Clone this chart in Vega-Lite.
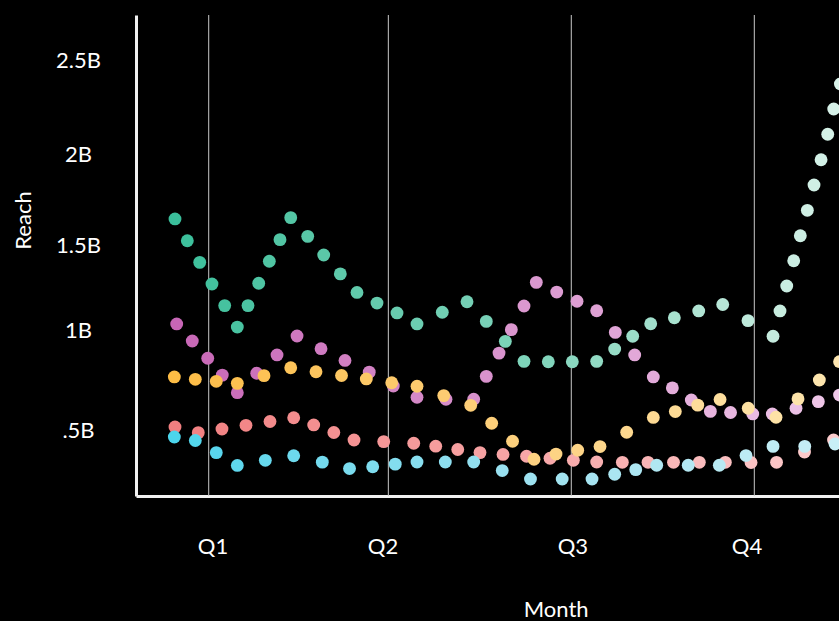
{
  "$schema": "https://vega.github.io/schema/vega-lite/v6.json",
  "width": 703,
  "height": 481,
  "autosize": {"type": "none"},
  "padding": {"left": 136, "top": 15, "right": 0, "bottom": 125},
  "background": "#000000",
  "config": {"view": {"stroke": null}, "font": "Lato"},
  "datasets": {
    "quarters": [
      {"Month": 1.5}, {"Month": 4.463}, {"Month": 7.481}, {"Month": 10.5}
    ],
    "points": [
      {"Series": "A", "Month": 0.944, "Reach": 1.639},
      {"Series": "A", "Month": 1.147, "Reach": 1.520},
      {"Series": "A", "Month": 1.352, "Reach": 1.402},
      {"Series": "A", "Month": 1.554, "Reach": 1.284},
      {"Series": "A", "Month": 1.764, "Reach": 1.166},
      {"Series": "A", "Month": 1.972, "Reach": 1.049},
      {"Series": "A", "Month": 2.148, "Reach": 1.166},
      {"Series": "A", "Month": 2.325, "Reach": 1.288},
      {"Series": "A", "Month": 2.500, "Reach": 1.408},
      {"Series": "A", "Month": 2.676, "Reach": 1.526},
      {"Series": "A", "Month": 2.853, "Reach": 1.646},
      {"Series": "A", "Month": 3.133, "Reach": 1.544},
      {"Series": "A", "Month": 3.397, "Reach": 1.442},
      {"Series": "A", "Month": 3.671, "Reach": 1.339},
      {"Series": "A", "Month": 3.946, "Reach": 1.238},
      {"Series": "A", "Month": 4.276, "Reach": 1.180},
      {"Series": "A", "Month": 4.606, "Reach": 1.126},
      {"Series": "A", "Month": 4.936, "Reach": 1.066},
      {"Series": "A", "Month": 5.353, "Reach": 1.130},
      {"Series": "A", "Month": 5.761, "Reach": 1.187},
      {"Series": "A", "Month": 6.079, "Reach": 1.080},
      {"Series": "A", "Month": 6.393, "Reach": 0.971},
      {"Series": "A", "Month": 6.701, "Reach": 0.862},
      {"Series": "A", "Month": 7.102, "Reach": 0.860},
      {"Series": "A", "Month": 7.498, "Reach": 0.860},
      {"Series": "A", "Month": 7.900, "Reach": 0.862},
      {"Series": "A", "Month": 8.197, "Reach": 0.929},
      {"Series": "A", "Month": 8.494, "Reach": 0.999},
      {"Series": "A", "Month": 8.791, "Reach": 1.067},
      {"Series": "A", "Month": 9.181, "Reach": 1.100},
      {"Series": "A", "Month": 9.583, "Reach": 1.137},
      {"Series": "A", "Month": 9.979, "Reach": 1.172},
      {"Series": "A", "Month": 10.396, "Reach": 1.084},
      {"Series": "A", "Month": 10.809, "Reach": 0.999},
      {"Series": "A", "Month": 10.924, "Reach": 1.137},
      {"Series": "A", "Month": 11.035, "Reach": 1.273},
      {"Series": "A", "Month": 11.150, "Reach": 1.411},
      {"Series": "A", "Month": 11.259, "Reach": 1.547},
      {"Series": "A", "Month": 11.375, "Reach": 1.686},
      {"Series": "A", "Month": 11.485, "Reach": 1.824},
      {"Series": "A", "Month": 11.601, "Reach": 1.962},
      {"Series": "A", "Month": 11.711, "Reach": 2.101},
      {"Series": "A", "Month": 11.810, "Reach": 2.239},
      {"Series": "A", "Month": 11.920, "Reach": 2.375},
      {"Series": "B", "Month": 0.972, "Reach": 1.066},
      {"Series": "B", "Month": 1.229, "Reach": 0.973},
      {"Series": "B", "Month": 1.484, "Reach": 0.879},
      {"Series": "B", "Month": 1.724, "Reach": 0.787},
      {"Series": "B", "Month": 1.972, "Reach": 0.691},
      {"Series": "B", "Month": 2.292, "Reach": 0.797},
      {"Series": "B", "Month": 2.627, "Reach": 0.897},
      {"Series": "B", "Month": 2.957, "Reach": 1.000},
      {"Series": "B", "Month": 3.353, "Reach": 0.931},
      {"Series": "B", "Month": 3.748, "Reach": 0.867},
      {"Series": "B", "Month": 4.148, "Reach": 0.803},
      {"Series": "B", "Month": 4.545, "Reach": 0.727},
      {"Series": "B", "Month": 4.936, "Reach": 0.666},
      {"Series": "B", "Month": 5.414, "Reach": 0.655},
      {"Series": "B", "Month": 5.871, "Reach": 0.655},
      {"Series": "B", "Month": 6.079, "Reach": 0.780},
      {"Series": "B", "Month": 6.289, "Reach": 0.907},
      {"Series": "B", "Month": 6.492, "Reach": 1.035},
      {"Series": "B", "Month": 6.701, "Reach": 1.164},
      {"Series": "B", "Month": 6.904, "Reach": 1.293},
      {"Series": "B", "Month": 7.241, "Reach": 1.240},
      {"Series": "B", "Month": 7.576, "Reach": 1.190},
      {"Series": "B", "Month": 7.900, "Reach": 1.138},
      {"Series": "B", "Month": 8.207, "Reach": 1.020},
      {"Series": "B", "Month": 8.527, "Reach": 0.897},
      {"Series": "B", "Month": 8.834, "Reach": 0.777},
      {"Series": "B", "Month": 9.148, "Reach": 0.717},
      {"Series": "B", "Month": 9.461, "Reach": 0.651},
      {"Series": "B", "Month": 9.775, "Reach": 0.589},
      {"Series": "B", "Month": 10.108, "Reach": 0.583},
      {"Series": "B", "Month": 10.474, "Reach": 0.575},
      {"Series": "B", "Month": 10.797, "Reach": 0.575},
      {"Series": "B", "Month": 11.188, "Reach": 0.606},
      {"Series": "B", "Month": 11.556, "Reach": 0.642},
      {"Series": "B", "Month": 11.906, "Reach": 0.678},
      {"Series": "C", "Month": 0.933, "Reach": 0.777},
      {"Series": "C", "Month": 1.279, "Reach": 0.764},
      {"Series": "C", "Month": 1.625, "Reach": 0.753},
      {"Series": "C", "Month": 1.972, "Reach": 0.742},
      {"Series": "C", "Month": 2.412, "Reach": 0.784},
      {"Series": "C", "Month": 2.853, "Reach": 0.827},
      {"Series": "C", "Month": 3.270, "Reach": 0.805},
      {"Series": "C", "Month": 3.691, "Reach": 0.785},
      {"Series": "C", "Month": 4.100, "Reach": 0.766},
      {"Series": "C", "Month": 4.519, "Reach": 0.745},
      {"Series": "C", "Month": 4.936, "Reach": 0.726},
      {"Series": "C", "Month": 5.377, "Reach": 0.675},
      {"Series": "C", "Month": 5.822, "Reach": 0.622},
      {"Series": "C", "Month": 6.168, "Reach": 0.524},
      {"Series": "C", "Month": 6.512, "Reach": 0.426},
      {"Series": "C", "Month": 6.866, "Reach": 0.328},
      {"Series": "C", "Month": 7.229, "Reach": 0.356},
      {"Series": "C", "Month": 7.587, "Reach": 0.377},
      {"Series": "C", "Month": 7.955, "Reach": 0.397},
      {"Series": "C", "Month": 8.395, "Reach": 0.475},
      {"Series": "C", "Month": 8.834, "Reach": 0.556},
      {"Series": "C", "Month": 9.197, "Reach": 0.588},
      {"Series": "C", "Month": 9.567, "Reach": 0.623},
      {"Series": "C", "Month": 9.935, "Reach": 0.654},
      {"Series": "C", "Month": 10.400, "Reach": 0.606},
      {"Series": "C", "Month": 10.858, "Reach": 0.557},
      {"Series": "C", "Month": 11.221, "Reach": 0.657},
      {"Series": "C", "Month": 11.573, "Reach": 0.760},
      {"Series": "C", "Month": 11.906, "Reach": 0.860},
      {"Series": "D", "Month": 0.944, "Reach": 0.504},
      {"Series": "D", "Month": 1.328, "Reach": 0.473},
      {"Series": "D", "Month": 1.719, "Reach": 0.493},
      {"Series": "D", "Month": 2.115, "Reach": 0.513},
      {"Series": "D", "Month": 2.511, "Reach": 0.534},
      {"Series": "D", "Month": 2.902, "Reach": 0.554},
      {"Series": "D", "Month": 3.232, "Reach": 0.515},
      {"Series": "D", "Month": 3.564, "Reach": 0.474},
      {"Series": "D", "Month": 3.897, "Reach": 0.433},
      {"Series": "D", "Month": 4.387, "Reach": 0.424},
      {"Series": "D", "Month": 4.882, "Reach": 0.415},
      {"Series": "D", "Month": 5.245, "Reach": 0.399},
      {"Series": "D", "Month": 5.608, "Reach": 0.381},
      {"Series": "D", "Month": 5.975, "Reach": 0.364},
      {"Series": "D", "Month": 6.355, "Reach": 0.354},
      {"Series": "D", "Month": 6.743, "Reach": 0.344},
      {"Series": "D", "Month": 7.130, "Reach": 0.333},
      {"Series": "D", "Month": 7.515, "Reach": 0.322},
      {"Series": "D", "Month": 7.900, "Reach": 0.313},
      {"Series": "D", "Month": 8.323, "Reach": 0.311},
      {"Series": "D", "Month": 8.747, "Reach": 0.311},
      {"Series": "D", "Month": 9.167, "Reach": 0.311},
      {"Series": "D", "Month": 9.593, "Reach": 0.311},
      {"Series": "D", "Month": 10.022, "Reach": 0.311},
      {"Series": "D", "Month": 10.446, "Reach": 0.310},
      {"Series": "D", "Month": 10.867, "Reach": 0.311},
      {"Series": "D", "Month": 11.328, "Reach": 0.367},
      {"Series": "D", "Month": 11.807, "Reach": 0.433},
      {"Series": "E", "Month": 0.933, "Reach": 0.449},
      {"Series": "E", "Month": 1.279, "Reach": 0.430},
      {"Series": "E", "Month": 1.625, "Reach": 0.364},
      {"Series": "E", "Month": 1.972, "Reach": 0.294},
      {"Series": "E", "Month": 2.434, "Reach": 0.322},
      {"Series": "E", "Month": 2.902, "Reach": 0.347},
      {"Series": "E", "Month": 3.374, "Reach": 0.312},
      {"Series": "E", "Month": 3.823, "Reach": 0.277},
      {"Series": "E", "Month": 4.205, "Reach": 0.287},
      {"Series": "E", "Month": 4.577, "Reach": 0.301},
      {"Series": "E", "Month": 4.936, "Reach": 0.313},
      {"Series": "E", "Month": 5.403, "Reach": 0.313},
      {"Series": "E", "Month": 5.871, "Reach": 0.313},
      {"Series": "E", "Month": 6.342, "Reach": 0.266},
      {"Series": "E", "Month": 6.808, "Reach": 0.220},
      {"Series": "E", "Month": 7.331, "Reach": 0.220},
      {"Series": "E", "Month": 7.823, "Reach": 0.220},
      {"Series": "E", "Month": 8.197, "Reach": 0.246},
      {"Series": "E", "Month": 8.544, "Reach": 0.271},
      {"Series": "E", "Month": 8.890, "Reach": 0.295},
      {"Series": "E", "Month": 9.410, "Reach": 0.295},
      {"Series": "E", "Month": 9.923, "Reach": 0.295},
      {"Series": "E", "Month": 10.363, "Reach": 0.348},
      {"Series": "E", "Month": 10.809, "Reach": 0.398},
      {"Series": "E", "Month": 11.332, "Reach": 0.398},
      {"Series": "E", "Month": 11.832, "Reach": 0.411}
    ]
  },
  "data": {"name": "points"},
  "encoding": {
    "x": {
      "field": "Month", "type": "quantitative",
      "scale": {"domain": [0.3007, 11.897], "nice": false, "zero": false},
      "axis": {
        "values": [1.562, 4.367, 7.5, 10.372],
        "labelExpr": "datum.value < 3 ? 'Q1' : datum.value < 6 ? 'Q2' : datum.value < 9 ? 'Q3' : 'Q4'",
        "title": "Month",
        "grid": false, "ticks": false, "tickSize": 0,
        "labelPadding": 50, "labelBaseline": "middle", "labelAlign": "center",
        "labelFontSize": 22, "labelColor": "#ffffff", "labelFont": "Lato",
        "labelFlush": false, "labelOverlap": false,
        "domainColor": "#f0f0f0", "domainWidth": 3,
        "titleX": 419.7, "titleY": 113, "titleBaseline": "middle", "titleAlign": "center",
        "titleFontSize": 22, "titleFontWeight": "normal", "titleColor": "#ffffff", "titleFont": "Lato"
      }
    }
  },
  "layer": [
    {
      "data": {"name": "quarters"},
      "mark": {"type": "rule", "color": "#c8c8c8", "strokeWidth": 1},
      "encoding": {}
    },
    {
      "transform": [{"filter": "datum.Series == 'A'"}],
      "mark": {"type": "point", "filled": true, "size": 165, "opacity": 1},
      "encoding": {
        "y": {
          "field": "Reach", "type": "quantitative",
          "scale": {"domain": [0.1273, 2.7516], "nice": false, "zero": false},
          "axis": {
            "values": [0.484, 1.029, 1.493, 1.993, 2.502],
            "labelExpr": "round(datum.value * 2) / 2 == 0.5 ? '.5B' : (round(datum.value * 2) / 2) + 'B'",
            "title": "Reach",
            "grid": false, "ticks": false, "tickSize": 0,
            "labelPadding": 58, "labelAlign": "center", "labelBaseline": "middle",
            "labelFontSize": 22, "labelColor": "#ffffff", "labelFont": "Lato",
            "labelFlush": false, "labelOverlap": false,
            "domainColor": "#f0f0f0", "domainWidth": 3,
            "titleX": -113, "titleY": 205, "titleAngle": 270, "titleAlign": "center", "titleBaseline": "middle",
            "titleFontSize": 22, "titleFontWeight": "normal", "titleColor": "#ffffff", "titleFont": "Lato"
          }
        },
        "color": {"field": "Month", "type": "quantitative", "legend": null,
          "scale": {"domain": [0.93, 7.1, 11.93], "range": ["#3abf9b", "#82d5bc", "#d8f2e9"]}}
      }
    },
    {
      "transform": [{"filter": "datum.Series == 'B'"}],
      "mark": {"type": "point", "filled": true, "size": 165, "opacity": 1},
      "encoding": {
        "y": {"field": "Reach", "type": "quantitative"},
        "color": {"field": "Month", "type": "quantitative", "legend": null,
          "scale": {"domain": [0.93, 7.1, 11.93], "range": ["#c766b6", "#dc9bd1", "#efc8e9"]}}
      }
    },
    {
      "transform": [{"filter": "datum.Series == 'D'"}],
      "mark": {"type": "point", "filled": true, "size": 165, "opacity": 1},
      "encoding": {
        "y": {"field": "Reach", "type": "quantitative"},
        "color": {"field": "Month", "type": "quantitative", "legend": null,
          "scale": {"domain": [0.93, 7.1, 11.93], "range": ["#f17f80", "#f7a9aa", "#fccdce"]}}
      }
    },
    {
      "transform": [{"filter": "datum.Series == 'E'"}],
      "mark": {"type": "point", "filled": true, "size": 165, "opacity": 1},
      "encoding": {
        "y": {"field": "Reach", "type": "quantitative"},
        "color": {"field": "Month", "type": "quantitative", "legend": null,
          "scale": {"domain": [0.93, 7.1, 11.93], "range": ["#4cd5ec", "#a0e2f0", "#c9eff6"]}}
      }
    },
    {
      "transform": [{"filter": "datum.Series == 'C'"}],
      "mark": {"type": "point", "filled": true, "size": 165, "opacity": 1},
      "encoding": {
        "y": {"field": "Reach", "type": "quantitative"},
        "color": {"field": "Month", "type": "quantitative", "legend": null,
          "scale": {"domain": [0.93, 7.1, 11.93], "range": ["#fdbd45", "#fdd283", "#fde6b0"]}}
      }
    }
  ],
  "resolve": {"scale": {"color": "independent"}}
}
